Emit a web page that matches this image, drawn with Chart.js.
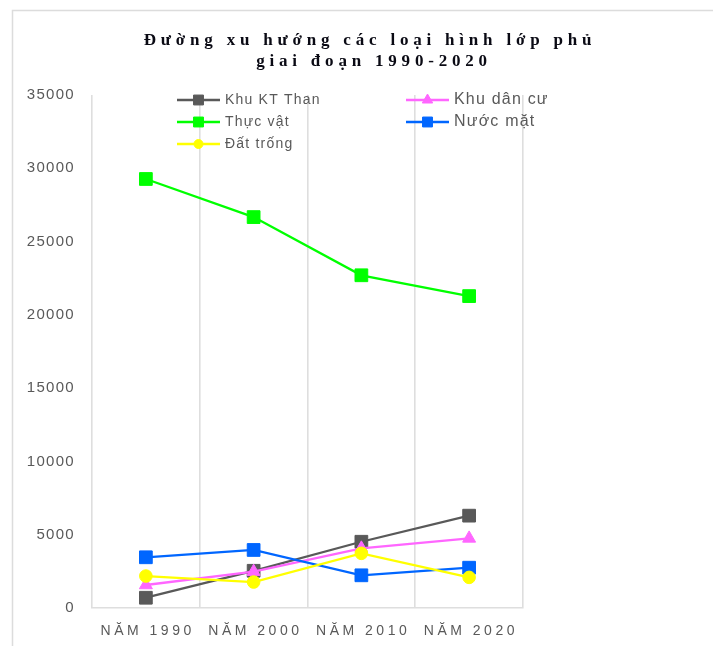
<!DOCTYPE html>
<html>
<head>
<meta charset="utf-8">
<script src="https://cdn.jsdelivr.net/npm/chart.js@4/dist/chart.umd.min.js"></script>
<style>
  html, body { margin: 0; padding: 0; background: #fff; }
  #wrap { width: 713px; height: 646px; }
</style>
</head>
<body>
<div id="wrap"><canvas id="trendChart" width="713" height="646"></canvas></div>
<script>
// ── Data ──
const yearLabels = ['NĂM 1990', 'NĂM 2000', 'NĂM 2010', 'NĂM 2020'];
const seriesNames = ['Khu KT Than', 'Khu dân cư', 'Thực vật', 'Nước mặt', 'Đất trống'];
const khuKTThan = [700, 2540, 4520, 6300];
const khuDanCu = [1570, 2480, 4070, 4750];
const thucVat = [29270, 26670, 22700, 21280];
const nuocMat = [3460, 3960, 2230, 2750];
const datTrong = [2180, 1770, 3730, 2090];
const yMin = 0, yMax = 35000, yStep = 5000;
const titleLines = ['Đường xu hướng các loại hình lớp phủ', 'giai đoạn 1990-2020'];

const TEXT_GREY = '#595959';
const GRID_GREY = '#dedede';

// legend slots: 2 columns, row-major like the Excel legend
const LEGEND_SLOTS = [
  { x: 177, y: 100, size: 14 },
  { x: 406, y: 100, size: 16 },
  { x: 177, y: 122, size: 14 },
  { x: 406, y: 122, size: 16 },
  { x: 177, y: 144, size: 14 },
];

function series(i, data, color, style, radius, order) {
  return {
    label: seriesNames[i],
    data: data,
    borderColor: color,
    backgroundColor: color,
    pointBackgroundColor: color,
    pointBorderColor: color,
    pointBorderWidth: 1,
    pointStyle: style,
    pointRadius: radius,
    borderWidth: 2.3,
    tension: 0,
    fill: false,
    order: order,
    legendRadius: style === 'rect' ? 7 : (style === 'triangle' ? 6 : 4.5),
  };
}

// frame, letter-spaced texts, custom 2-column legend
const decorations = {
  id: 'decorations',
  beforeDraw(chart) {
    const ctx = chart.ctx;
    ctx.save();
    ctx.strokeStyle = '#dcdcdc';
    ctx.lineWidth = 1.5;
    ctx.strokeRect(12.5, 10.5, 800, 800);
    ctx.restore();
    ctx.letterSpacing = '1.3px';   // y tick labels are spaced out a little
  },
  afterDatasetsDraw(chart) {
    chart.ctx.letterSpacing = '0px';
  },
  afterDraw(chart) {
    const ctx = chart.ctx;
    const xs = chart.scales.x;

    // ── x labels ──
    ctx.save();
    ctx.font = '14px "Liberation Sans", Arial, sans-serif';
    ctx.fillStyle = TEXT_GREY;
    ctx.letterSpacing = '3.5px';
    ctx.textAlign = 'center';
    ctx.textBaseline = 'middle';
    yearLabels.forEach((lab, i) => {
      ctx.fillText(lab, xs.getPixelForValue(i) + 1.75, 631);
    });
    ctx.restore();

    // ── title ──
    ctx.save();
    ctx.font = 'bold 17px "Liberation Serif", "Times New Roman", serif';
    ctx.fillStyle = '#0a0a14';
    ctx.letterSpacing = '4.8px';
    ctx.textAlign = 'center';
    ctx.textBaseline = 'alphabetic';
    ctx.fillText(titleLines[0], 370, 45);
    ctx.fillText(titleLines[1], 374, 66);
    ctx.restore();

    // ── legend ──
    chart.data.datasets.forEach((ds, i) => {
      const s = LEGEND_SLOTS[i];
      ctx.save();
      ctx.strokeStyle = ds.borderColor;
      ctx.lineWidth = 2.5;
      ctx.beginPath();
      ctx.moveTo(s.x, s.y);
      ctx.lineTo(s.x + 43, s.y);
      ctx.stroke();
      ctx.fillStyle = ds.backgroundColor;
      ctx.strokeStyle = ds.borderColor;
      ctx.lineWidth = 1;
      Chart.helpers.drawPoint(ctx, {
        pointStyle: ds.pointStyle, radius: ds.legendRadius, rotation: 0, borderWidth: 1
      }, s.x + 21.5, s.y);
      ctx.fillStyle = TEXT_GREY;
      ctx.font = s.size + 'px "Liberation Sans", Arial, sans-serif';
      ctx.letterSpacing = '1.2px';
      ctx.textAlign = 'left';
      ctx.textBaseline = 'middle';
      ctx.fillText(ds.label, s.x + 48, s.y);
      ctx.restore();
    });
  }
};

new Chart(document.getElementById('trendChart'), {
  type: 'line',
  data: {
    labels: yearLabels,
    datasets: [
      series(0, khuKTThan, '#595959', 'rect', 9, 5),
      series(1, khuDanCu, '#ff66ff', 'triangle', 7.5, 4),
      series(2, thucVat, '#00ff00', 'rect', 9, 3),
      series(3, nuocMat, '#0066ff', 'rect', 9, 2),
      series(4, datTrong, '#ffff00', 'circle', 6.3, 1),
    ]
  },
  options: {
    responsive: false,
    animation: false,
    devicePixelRatio: 1,
    layout: { padding: { left: 12, right: 190, top: 95, bottom: 0 } },
    plugins: {
      legend: { display: false },
      title: { display: false },
      tooltip: { enabled: false },
    },
    scales: {
      x: {
        type: 'category',
        offset: true,
        grid: { offset: true, color: GRID_GREY, lineWidth: 1.6, drawTicks: false },
        border: { display: true, color: GRID_GREY, width: 1.6 },
        ticks: { display: false },
        afterFit: s => { s.height = 38; },
      },
      y: {
        min: yMin,
        max: yMax,
        grid: { display: false, drawTicks: false },
        border: { display: false },
        ticks: {
          stepSize: yStep,
          padding: 17,
          color: TEXT_GREY,
          font: { family: '"Liberation Sans", Arial, sans-serif', size: 15 },
          callback: v => String(v),
        },
        afterFit: s => { s.width = 80; },
      }
    }
  },
  plugins: [decorations]
});
</script>
</body>
</html>
